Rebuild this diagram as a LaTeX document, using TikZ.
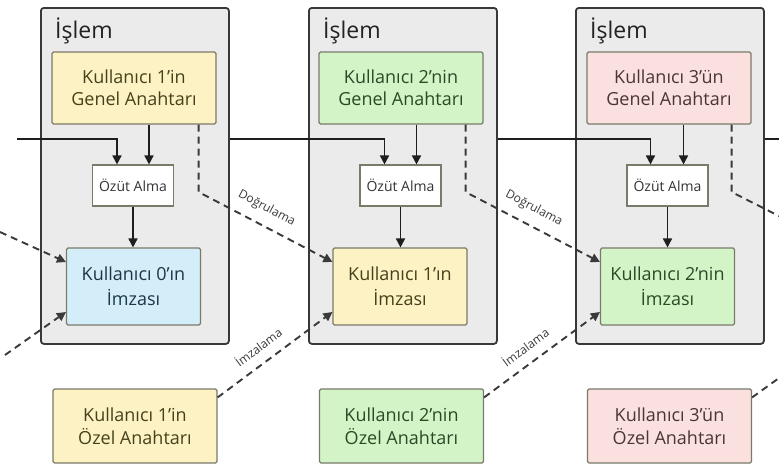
\documentclass[tikz,border=0pt]{standalone}
\usepackage{fontspec}
\setmainfont{Open Sans}
\usetikzlibrary{arrows.meta}
\definecolor{frame}{HTML}{383838}
\definecolor{txfill}{HTML}{EBEBEB}
\definecolor{kborder}{HTML}{7A7A6A}
\definecolor{yelf}{HTML}{FCF2C4}
\definecolor{yelt}{HTML}{45411C}
\definecolor{grnf}{HTML}{D3F4C6}
\definecolor{grnt}{HTML}{2A4A27}
\definecolor{pnkf}{HTML}{FBE0E0}
\definecolor{pnkt}{HTML}{4A3434}
\definecolor{bluf}{HTML}{D3EEF8}
\definecolor{blut}{HTML}{1D3649}
\definecolor{hashtx}{HTML}{333333}
\definecolor{titletx}{HTML}{222222}
\definecolor{linec}{HTML}{1E1E1E}
\definecolor{dashc}{HTML}{3A3A3A}
\definecolor{lbltx}{HTML}{3A3A3A}
\tikzset{
 txbox/.style={draw=frame, fill=txfill, line width=1.8pt, rounded corners=3pt, minimum width=188pt, minimum height=336pt, anchor=north west, inner sep=0pt},
 keybox/.style={draw=kborder, line width=1.1pt, rounded corners=1.5pt, align=center, inner sep=2pt},
 pubkey/.style={keybox, minimum width=164pt, minimum height=72pt, font=\fontsize{18}{22}\selectfont},
 privkey/.style={keybox, minimum width=164pt, minimum height=74pt, font=\fontsize{18}{23}\selectfont},
 sigbox/.style={keybox, minimum width=134pt, minimum height=77pt, font=\fontsize{18}{25}\selectfont},
 hashbox/.style={draw=kborder, fill=white, line width=1.1pt, minimum width=81pt, minimum height=41pt, font=\fontsize{14}{15}\selectfont, text=hashtx, inner sep=1pt},
 title/.style={anchor=west, font=\fontsize{23}{25}\selectfont, text=titletx, inner sep=0pt},
 arr/.style={line width=1.6pt, draw=linec, -{Triangle[width=9pt,length=9pt]}},
 sline/.style={line width=1.6pt, draw=linec},
 dline/.style={line width=1.9pt, draw=dashc, dash pattern=on 7pt off 5pt},
 darr/.style={dline, -{Triangle[width=9pt,length=9pt]}},
 lbl/.style={sloped, above=8pt, font=\fontsize{12}{13}\selectfont, text=lbltx, inner sep=2pt},
 yel/.style={fill=yelf, text=yelt},
 grn/.style={fill=grnf, text=grnt},
 pnk/.style={fill=pnkf, text=pnkt},
 blu/.style={fill=bluf, text=blut},
}
\begin{document}
\begin{tikzpicture}[x=1pt,y=-1pt]
\useasboundingbox (0,0) rectangle (779,466);
\fill[white] (0,0) rectangle (779,466);

% transaction boxes
\node[txbox] (t1) at (40,7) {};
\node[txbox] (t2) at (308,7) {};
\node[txbox] (t3) at (575,7) {};
\node[title] (ti1) at (55,31) {İşlem};
\node[title] (ti2) at (323,31) {İşlem};
\node[title] (ti3) at (590,31) {İşlem};

% public keys
\node[pubkey,yel] (p1) at (134,88) {Kullanıcı 1’in\\Genel Anahtarı};
\node[pubkey,grn] (p2) at (401,88) {Kullanıcı 2’nin\\Genel Anahtarı};
\node[pubkey,pnk] (p3) at (669,88) {Kullanıcı 3’ün\\Genel Anahtarı};

% hash boxes
\node[hashbox] (h1) at (133,185.5) {Özüt Alma};
\node[hashbox] (h2) at (400.5,185.5) {Özüt Alma};
\node[hashbox] (h3) at (667.5,185.5) {Özüt Alma};

% signatures
\node[sigbox,blu] (s1) at (133.5,286.5) {Kullanıcı 0’ın\\İmzası};
\node[sigbox,yel] (s2) at (400,286.5) {Kullanıcı 1’ın\\İmzası};
\node[sigbox,grn] (s3) at (667.5,286.5) {Kullanıcı 2’nin\\İmzası};

% private keys
\node[privkey,yel] (k1) at (135,426) {Kullanıcı 1’in\\Özel Anahtarı};
\node[privkey,grn] (k2) at (401.5,426) {Kullanıcı 2’nin\\Özel Anahtarı};
\node[privkey,pnk] (k3) at (669.5,426) {Kullanıcı 3’ün\\Özel Anahtarı};

% chain line
\coordinate (in0) at (17,139);
\coordinate (out3) at (779,139);
\draw[arr] (in0) -| ([xshift=-16pt]h1.north);
\draw[arr] (t1.east |- in0) -| ([xshift=-16pt]h2.north);
\draw[arr] (t2.east |- in0) -| ([xshift=-17pt]h3.north);
\draw[sline] (t3.east |- in0) -- (out3);

% public key -> hash
\draw[arr] ([xshift=16pt]h1.north |- p1.south) -- ([xshift=16pt]h1.north);
\draw[arr] ([xshift=16pt]h2.north |- p2.south) -- ([xshift=16pt]h2.north);
\draw[arr] ([xshift=16pt]h3.north |- p3.south) -- ([xshift=16pt]h3.north);

% hash -> signature
\draw[arr] (h1.south) -- (h1.south |- s1.north);
\draw[arr] (h2.south) -- (h2.south |- s2.north);
\draw[arr] (h3.south) -- (h3.south |- s3.north);

% verification (Doğrulama)
\coordinate (va1) at ([xshift=-18pt]p1.south east);
\coordinate (va2) at ([xshift=-18pt]p2.south east);
\coordinate (va3) at ([xshift=-20pt]p3.south east);
\coordinate (din) at (0,232);
\coordinate (dout) at (779,216);
\draw[darr] (din) -- ([yshift=24.5pt]s1.west);
\draw[darr] (va1) -- (va1 |- 0,192) -- node[lbl,pos=0.45]{Doğrulama} ([yshift=24.5pt]s2.west);
\draw[darr] (va2) -- (va2 |- 0,192) -- node[lbl,pos=0.45]{Doğrulama} ([yshift=24.5pt]s3.west);
\draw[dline] (va3) -- (va3 |- 0,192) -- (dout);

% signing (İmzalama)
\coordinate (iin) at (5,355);
\coordinate (iout) at (779,378);
\draw[darr] (iin) -- ([yshift=-25.5pt]s1.west);
\draw[darr] ([yshift=-9pt]k1.north east) -- node[lbl,pos=0.44]{İmzalama} ([yshift=-25.5pt]s2.west);
\draw[darr] ([yshift=-9pt]k2.north east) -- node[lbl,pos=0.44]{İmzalama} ([yshift=-25.5pt]s3.west);
\draw[dline] ([yshift=-9pt]k3.north east) -- (iout);
\end{tikzpicture}
\end{document}
